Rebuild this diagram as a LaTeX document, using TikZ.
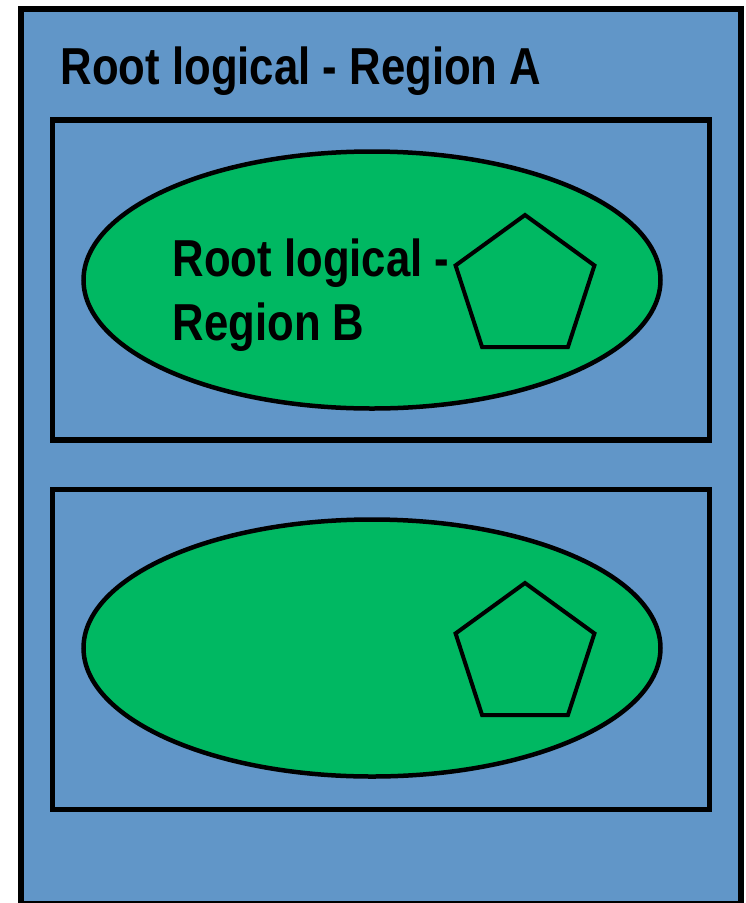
\documentclass[tikz,border=0pt]{standalone}
\usepackage{fontspec}
\setmainfont[FakeStretch=0.84]{Liberation Sans}
\usetikzlibrary{shapes.geometric,positioning}
\definecolor{regionblue}{RGB}{97,150,200}
\definecolor{regiongreen}{RGB}{0,184,98}

\begin{document}
\begin{tikzpicture}[x=1pt,y=-1pt,line width=5.5pt,
  frame/.style={draw,rectangle,minimum width=657pt,minimum height=320pt,inner sep=0pt},
  blob/.style={draw,ellipse,fill=regiongreen,minimum width=577pt,minimum height=257pt,inner sep=0pt,line width=4.5pt},
  penta/.style={draw,regular polygon,regular polygon sides=5,minimum size=146pt,inner sep=0pt,line width=4pt},
  regiontext/.style={font=\bfseries\fontsize{52}{64}\selectfont,align=left,inner sep=0pt}
]
  \useasboundingbox (0,0) rectangle (746,903);
  \clip (0,0) rectangle (746,903);
  \node[draw,rectangle,fill=regionblue,minimum width=720pt,minimum height=895pt,inner sep=0pt,line width=6pt] (root) at (381,456.5) {};
  \node[regiontext,anchor=base west] (titleA) at (58,84) {Root logical - Region A};
  \node[frame] (boxB) at (381,280) {};
  \node[frame,below=44pt of boxB] (boxC) {};
  \node[blob] (ovalB) at (372,280) {};
  \node[blob] (ovalC) at (372,648) {};
  \node[penta] (pentB) at (525,288) {};
  \node[penta] (pentC) at (525,656) {};
  \node[regiontext,anchor=base west] (titleB) at (170,340) {Root logical -\\Region B};
\end{tikzpicture}
\end{document}
